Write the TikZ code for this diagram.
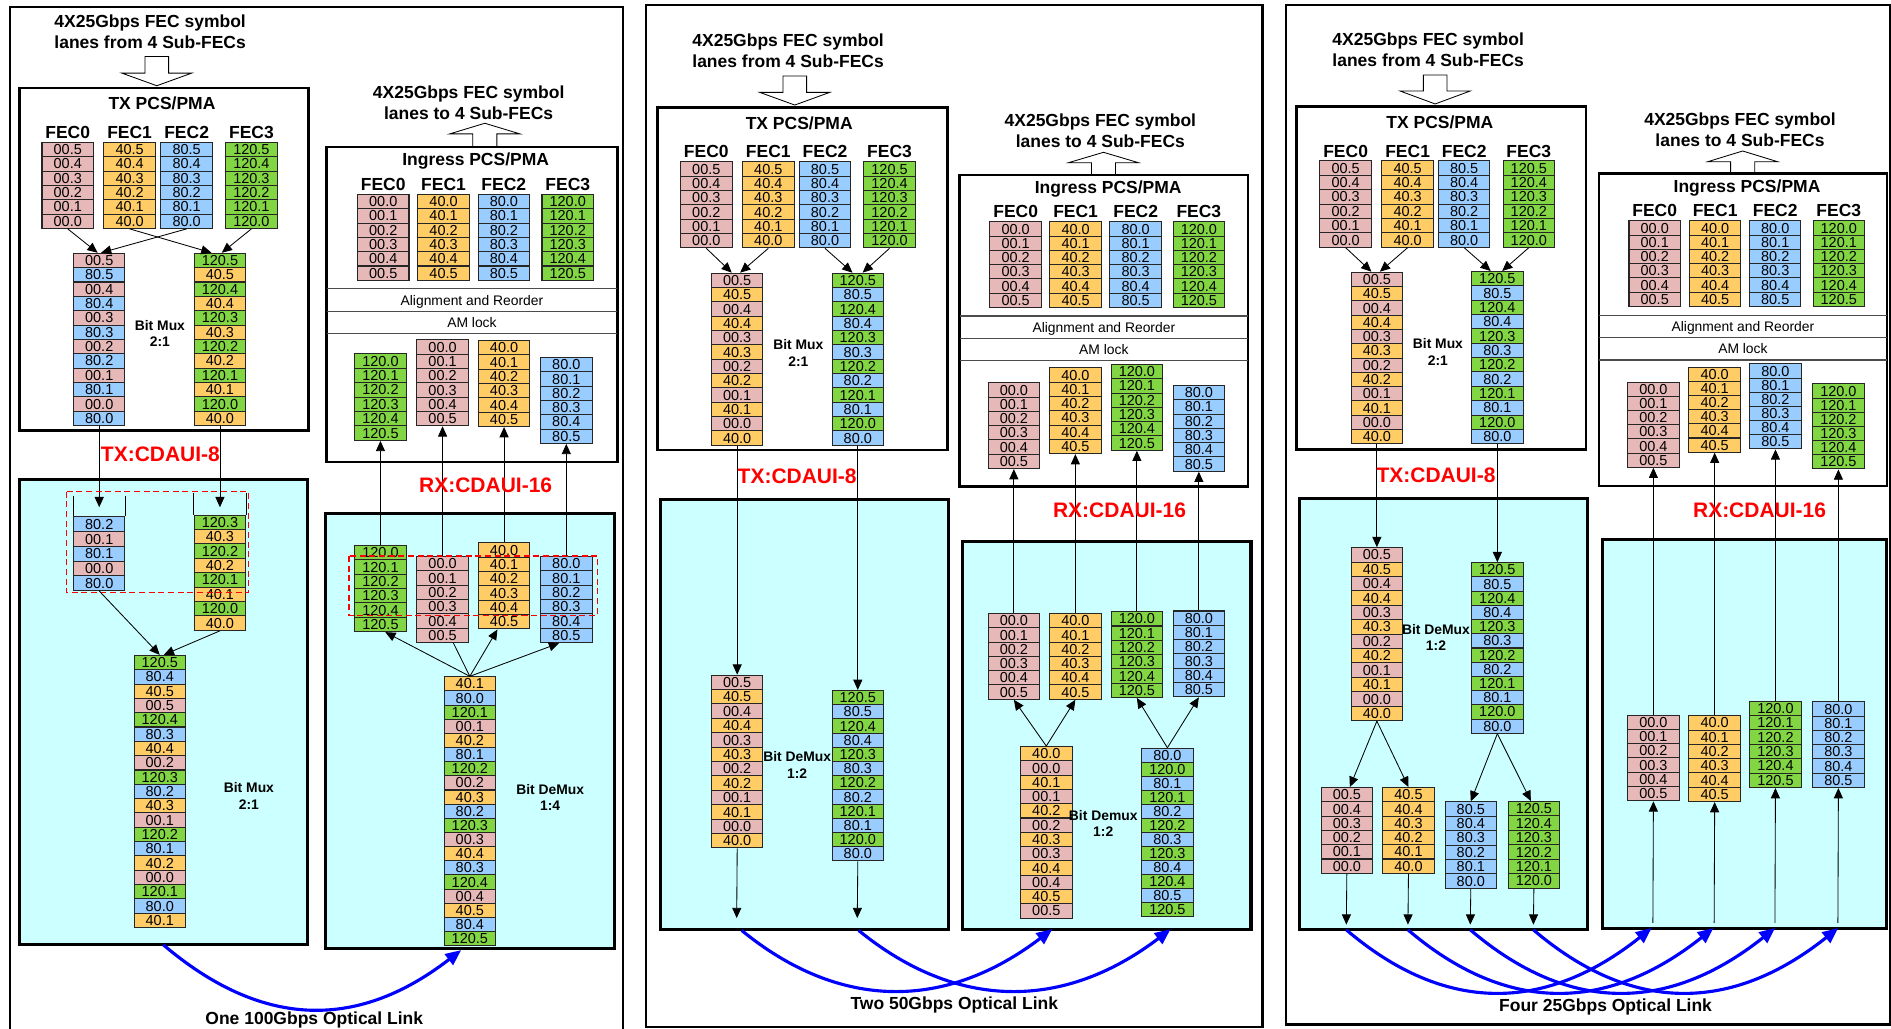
\documentclass[tikz,border=0pt]{standalone}
\usepackage{fontspec}
\setmainfont{Liberation Sans}
\usetikzlibrary{arrows.meta,calc}

\definecolor{PK}{HTML}{E6B9B8}
\definecolor{OR}{HTML}{FFCC66}
\definecolor{BL}{HTML}{99CCFF}
\definecolor{GR}{HTML}{82D644}
\definecolor{CY}{HTML}{CCFFFF}
\definecolor{cellline}{HTML}{262626}
\definecolor{linkblue}{HTML}{0000FF}

\tikzset{
  cell/.style={draw=cellline, line width=0.85pt, minimum width=42.7pt, inner sep=0pt,
    anchor=north west, font=\fontsize{12}{12}\selectfont, text depth=0pt},
  heading/.style={font=\bfseries\fontsize{14.5}{17.2}\selectfont, inner sep=0pt, text depth=0pt, align=center},
  feclbl/.style={font=\bfseries\fontsize{14.5}{17}\selectfont, inner sep=0pt, text depth=0pt, anchor=south},
  oplbl/.style={font=\bfseries\fontsize{11.5}{13.8}\selectfont, inner sep=0pt, text depth=0pt, align=center},
  iflbl/.style={font=\bfseries\fontsize{17.4}{20}\selectfont, text=red, inner sep=0pt, text depth=0pt},
  bandlbl/.style={font=\fontsize{11.5}{14}\selectfont, inner sep=0pt, text depth=0pt},
  arr/.style={draw=black, line width=0.7pt, -{Triangle[length=8.5pt,width=7.5pt]}},
  plainline/.style={draw=black, line width=0.7pt},
  bandline/.style={draw=black!70, line width=0.9pt},
  link/.style={draw=linkblue, line width=2.6pt, -{Triangle[length=13pt,width=11pt]}},
  panel/.style={draw=black, line width=1.8pt},
  blockbox/.style={draw=black, line width=2.3pt},
  cyanbox/.style={draw=black, fill=CY, line width=2.5pt},
  dashbox/.style={draw=red, line width=0.9pt, dash pattern=on 5pt off 3pt},
  hollow/.style={draw=black, fill=white, line width=0.7pt},
}

% symbol lists: value/colour
\def\PKdn{00.5/PK,00.4/PK,00.3/PK,00.2/PK,00.1/PK,00.0/PK}
\def\ORdn{40.5/OR,40.4/OR,40.3/OR,40.2/OR,40.1/OR,40.0/OR}
\def\BLdn{80.5/BL,80.4/BL,80.3/BL,80.2/BL,80.1/BL,80.0/BL}
\def\GRdn{120.5/GR,120.4/GR,120.3/GR,120.2/GR,120.1/GR,120.0/GR}
\def\PKup{00.0/PK,00.1/PK,00.2/PK,00.3/PK,00.4/PK,00.5/PK}
\def\ORup{40.0/OR,40.1/OR,40.2/OR,40.3/OR,40.4/OR,40.5/OR}
\def\BLup{80.0/BL,80.1/BL,80.2/BL,80.3/BL,80.4/BL,80.5/BL}
\def\GRup{120.0/GR,120.1/GR,120.2/GR,120.3/GR,120.4/GR,120.5/GR}
\def\MuxPB{00.5/PK,80.5/BL,00.4/PK,80.4/BL,00.3/PK,80.3/BL,00.2/PK,80.2/BL,00.1/PK,80.1/BL,00.0/PK,80.0/BL}
\def\MuxGO{120.5/GR,40.5/OR,120.4/GR,40.4/OR,120.3/GR,40.3/OR,120.2/GR,40.2/OR,120.1/GR,40.1/OR,120.0/GR,40.0/OR}
\def\MuxPO{00.5/PK,40.5/OR,00.4/PK,40.4/OR,00.3/PK,40.3/OR,00.2/PK,40.2/OR,00.1/PK,40.1/OR,00.0/PK,40.0/OR}
\def\MuxGB{120.5/GR,80.5/BL,120.4/GR,80.4/BL,120.3/GR,80.3/BL,120.2/GR,80.2/BL,120.1/GR,80.1/BL,120.0/GR,80.0/BL}
\def\FifoL{80.2/BL,00.1/PK,80.1/BL,00.0/PK,80.0/BL}
\def\FifoR{120.3/GR,40.3/OR,120.2/GR,40.2/OR,120.1/GR,40.1/OR,120.0/GR,40.0/OR}
\def\SerTx{120.5/GR,80.4/BL,40.5/OR,00.5/PK,120.4/GR,80.3/BL,40.4/OR,00.2/PK,120.3/GR,80.2/BL,40.3/OR,00.1/PK,120.2/GR,80.1/BL,40.2/OR,00.0/PK,120.1/GR,80.0/BL,40.1/OR}
\def\SerRx{40.1/OR,80.0/BL,120.1/GR,00.1/PK,40.2/OR,80.1/BL,120.2/GR,00.2/PK,40.3/OR,80.2/BL,120.3/GR,00.3/PK,40.4/OR,80.3/BL,120.4/GR,00.4/PK,40.5/OR,80.4/BL,120.5/GR}
\def\DmxOP{40.0/OR,00.0/PK,40.1/OR,00.1/PK,40.2/OR,00.2/PK,40.3/OR,00.3/PK,40.4/OR,00.4/PK,40.5/OR,00.5/PK}
\def\DmxBG{80.0/BL,120.0/GR,80.1/BL,120.1/GR,80.2/BL,120.2/GR,80.3/BL,120.3/GR,80.4/BL,120.4/GR,80.5/BL,120.5/GR}

% a column of symbol cells: name, left x, top y, cell height, list
\newcommand\cellcol[5]{%
  \edef\cclist{#5}%
  \foreach \cellv/\cellc [count=\celli] in \cclist {%
    \node[cell, fill=\cellc, minimum height=#4pt] (#1-\celli) at (#2,{#3+(\celli-1)*#4}) {\cellv};
  }%
}
% hollow block arrows: centre x, tail y, head base y, tip y
\newcommand\blockdown[4]{\draw[hollow] ({#1-9.8},#2) -- ({#1+9.8},#2) -- ({#1+9.8},#3) -- ({#1+29},#3) -- (#1,#4) -- ({#1-29},#3) -- ({#1-9.8},#3) -- cycle;}
\newcommand\blockup[4]{\draw[hollow] ({#1-10},#2) -- ({#1-10},#3) -- ({#1-29},#3) -- (#1,#4) -- ({#1+29},#3) -- ({#1+10},#3) -- ({#1+10},#2) -- cycle;}

\begin{document}
\begin{tikzpicture}[x=1pt,y=-1pt]
\useasboundingbox (0,0) rectangle (1568,853);
\fill[white] (0,0) rectangle (1568,853);

% ================= panel A : one 100G link =================
\draw[panel] (8,870) -- (8,6) -- (516.5,6) -- (516.5,870);
\node[heading] (A-title) at (124.5,26.35) {4X25Gbps FEC symbol\\lanes from 4 Sub-FECs};
\blockdown{130}{46.8}{60.6}{71.1}
\draw[blockbox] (16,73) rectangle (256,357);
\node[heading] (A-txhdr) at (134.3,85.4) {TX PCS/PMA};
\cellcol{A-t0}{34.4}{117.7}{11.87}{\PKdn}
\cellcol{A-t1}{85.7}{117.7}{11.87}{\ORdn}
\cellcol{A-t2}{133}{117.7}{11.87}{\BLdn}
\cellcol{A-t3}{186.7}{117.7}{11.87}{\GRdn}
\node[feclbl] (A-th0) at ([yshift=2.6pt]A-t0-1.north) {FEC0};
\node[feclbl] (A-th1) at ([yshift=2.6pt]A-t1-1.north) {FEC1};
\node[feclbl] (A-th2) at ([yshift=2.6pt]A-t2-1.north) {FEC2};
\node[feclbl] (A-th3) at ([yshift=2.6pt]A-t3-1.north) {FEC3};
\cellcol{A-m0}{60.5}{209.6}{11.9}{\MuxPB}
\cellcol{A-m1}{160.6}{209.6}{11.9}{\MuxGO}
\draw[arr] (A-t0-6.south) -- ([xshift=-1.3pt]A-m0-1.north);
\draw[arr] (A-t2-6.south) -- ([xshift=1.5pt]A-m0-1.north);
\draw[arr] (A-t1-6.south) -- ([xshift=-7pt]A-m1-1.north);
\draw[arr] (A-t3-6.south) -- ([xshift=1.5pt]A-m1-1.north);
\node[oplbl] (A-txop) at (132.6,276.4) {Bit Mux\\2:1};

\node[heading] (A-rxtitle) at (388.6,85) {4X25Gbps FEC symbol\\lanes to 4 Sub-FECs};
\blockup{402}{121.9}{111}{102.2}
\draw[blockbox] (271,121.9) rectangle (511.7,383);
\node[heading] (A-rxhdr) at (394.4,132) {Ingress PCS/PMA};
\cellcol{A-g0}{296}{160.8}{11.87}{\PKup}
\cellcol{A-g1}{346}{160.8}{11.87}{\ORup}
\cellcol{A-g2}{396}{160.8}{11.87}{\BLup}
\cellcol{A-g3}{449}{160.8}{11.87}{\GRup}
\node[feclbl] (A-gh0) at ([yshift=2.6pt]A-g0-1.north) {FEC0};
\node[feclbl] (A-gh1) at ([yshift=2.6pt]A-g1-1.north) {FEC1};
\node[feclbl] (A-gh2) at ([yshift=2.6pt]A-g2-1.north) {FEC2};
\node[feclbl] (A-gh3) at ([yshift=2.6pt]A-g3-1.north) {FEC3};
\draw[bandline] (271,239.4) -- (511.7,239.4);
\draw[bandline] (271,258) -- (511.7,258);
\draw[bandline] (271,276.4) -- (511.7,276.4);
\node[bandlbl] (A-align) at (391.35,248.8) {Alignment and Reorder};
\node[bandlbl] (A-amlock) at (391.35,267) {AM lock};
\cellcol{A-l0}{345.2}{281.4}{11.87}{\PKup}
\cellcol{A-l1}{396.2}{282}{11.87}{\ORup}
\cellcol{A-l2}{447.8}{296}{11.87}{\BLup}
\cellcol{A-l3}{293.7}{293}{11.95}{\GRup}

% TX electrical side of panel A
\draw[cyanbox] (16,397.6) rectangle (255,783.4);
\cellcol{A-f0}{60.5}{428.2}{12.2}{\FifoL}
\cellcol{A-f1}{160.6}{426.7}{11.94}{\FifoR}
\draw[plainline] (A-f0-1.north west) -- ++(0,-16.8);
\draw[plainline] (A-f0-1.north east) -- ++(0,-16.8);
\draw[plainline] (A-f1-1.north west) -- ++(0,-17.7);
\draw[plainline] (A-f1-1.north east) -- ++(0,-17.7);
\draw[arr] (A-m0-12.south) -- ([yshift=7.6pt]A-f0-1.north);
\draw[arr] (A-m1-12.south) -- ([yshift=6.1pt]A-f1-1.north);
\draw[dashbox] (55.2,407.7) rectangle (205.8,491.6);
\cellcol{A-x}{110.7}{543}{11.88}{\SerTx}
\draw[arr] (A-f0-5.south) -- (A-x-1.north);
\draw[arr] (A-f1-8.south) -- ([xshift=3.3pt]A-x-1.north);
\node[oplbl] (A-txop2) at (206.4,659.85) {Bit Mux\\2:1};

% RX electrical side of panel A
\draw[cyanbox] (269.7,425.8) rectangle (509.3,786.5);
\cellcol{A-r3}{293.7}{451.9}{11.9}{\GRup}
\cellcol{A-r0}{345.2}{461}{11.9}{\PKup}
\cellcol{A-r1}{396.2}{449.7}{11.9}{\ORup}
\cellcol{A-r2}{447.8}{461}{11.9}{\BLup}
\draw[dashbox] (289.4,461) rectangle (495.3,510);
\cellcol{A-d}{367.8}{560.8}{11.73}{\SerRx}
\draw[arr] (A-d-1.north) -- ([xshift=4pt]A-r3-6.south);
\draw[plainline] (A-d-1.north) -- ([xshift=9pt]A-r0-6.south);
\draw[arr] (A-d-1.north) -- ([xshift=-5.5pt]A-r1-6.south);
\draw[arr] (A-d-1.north) -- ([xshift=-6pt]A-r2-6.south);
\node[oplbl] (A-rxop) at (456.2,661.4) {Bit DeMux\\1:4};
\draw[arr] (A-r3-1.north) -- (A-l3-6.south);
\draw[arr] (A-r0-1.north) -- (A-l0-6.south);
\draw[arr] (A-r1-1.north) -- (A-l1-6.south);
\draw[arr] (A-r2-1.north) -- (A-l2-6.south);

\node[iflbl] (A-txif) at (133,377) {TX:CDAUI-8};
\node[iflbl] (A-rxif) at (402.7,402.5) {RX:CDAUI-16};

\coordinate (A-s) at (135.4,783.4);
\coordinate (A-e) at (382.4,787.8);
\draw[link] (A-s) .. controls +(80,68) and +(-88,68) .. (A-e);
\node[heading] (A-link) at (260.6,844.6) {One 100Gbps Optical Link};

% ================= panel B : two 50G links =================
\draw[panel] (535.8,4.1) rectangle (1046.8,851.5);
\node[heading] (B-title) at (653.5,41.9) {4X25Gbps FEC symbol\\lanes from 4 Sub-FECs};
\blockdown{659}{63}{76.6}{87.1}
\draw[blockbox] (545.2,89) rectangle (785.5,373.1);
\node[heading] (B-txhdr) at (662.7,102.3) {TX PCS/PMA};
\cellcol{B-t0}{563.9}{133.8}{11.88}{\PKdn}
\cellcol{B-t1}{615.3}{133.8}{11.88}{\ORdn}
\cellcol{B-t2}{662.3}{133.8}{11.88}{\BLdn}
\cellcol{B-t3}{715.8}{133.8}{11.88}{\GRdn}
\node[feclbl] (B-th0) at ([yshift=2.6pt]B-t0-1.north) {FEC0};
\node[feclbl] (B-th1) at ([yshift=2.6pt]B-t1-1.north) {FEC1};
\node[feclbl] (B-th2) at ([yshift=2.6pt]B-t2-1.north) {FEC2};
\node[feclbl] (B-th3) at ([yshift=2.6pt]B-t3-1.north) {FEC3};
\cellcol{B-m0}{589.5}{226.1}{11.88}{\MuxPO}
\cellcol{B-m1}{689.5}{226.1}{11.88}{\MuxGB}
\draw[arr] (B-t0-6.south) -- ([xshift=-4.5pt]B-m0-1.north);
\draw[arr] (B-t1-6.south) -- ([xshift=2.4pt]B-m0-1.north);
\draw[arr] (B-t2-6.south) -- ([xshift=-4.4pt]B-m1-1.north);
\draw[arr] (B-t3-6.south) -- ([xshift=4pt]B-m1-1.north);
\node[oplbl] (B-txop) at (662,292.55) {Bit Mux\\2:1};

\node[heading] (B-rxtitle) at (912.4,108.45) {4X25Gbps FEC symbol\\lanes to 4 Sub-FECs};
\blockup{915}{145.1}{134.9}{126.3}
\draw[blockbox] (795.7,145.1) rectangle (1034.9,403.5);
\node[heading] (B-rxhdr) at (918.9,154.8) {Ingress PCS/PMA};
\cellcol{B-g0}{820.4}{183.5}{11.85}{\PKup}
\cellcol{B-g1}{870.1}{183.5}{11.85}{\ORup}
\cellcol{B-g2}{919.9}{183.5}{11.85}{\BLup}
\cellcol{B-g3}{972.3}{183.5}{11.85}{\GRup}
\node[feclbl] (B-gh0) at ([yshift=2.6pt]B-g0-1.north) {FEC0};
\node[feclbl] (B-gh1) at ([yshift=2.6pt]B-g1-1.north) {FEC1};
\node[feclbl] (B-gh2) at ([yshift=2.6pt]B-g2-1.north) {FEC2};
\node[feclbl] (B-gh3) at ([yshift=2.6pt]B-g3-1.north) {FEC3};
\draw[bandline] (795.7,262) -- (1034.9,262);
\draw[bandline] (795.7,280.8) -- (1034.9,280.8);
\draw[bandline] (795.7,299.3) -- (1034.9,299.3);
\node[bandlbl] (B-align) at (915.3,271.4) {Alignment and Reorder};
\node[bandlbl] (B-amlock) at (915.3,289.4) {AM lock};
\cellcol{B-l0}{818.9}{317}{11.85}{\PKup}
\cellcol{B-l1}{869.9}{304.6}{11.85}{\ORup}
\cellcol{B-l2}{920.9}{301.8}{11.85}{\GRup}
\cellcol{B-l3}{972.3}{319.2}{11.85}{\BLup}

\draw[cyanbox] (547.6,414) rectangle (786.2,770.9);
\cellcol{B-x0}{589.5}{559.4}{11.94}{\MuxPO}
\cellcol{B-x1}{689.5}{572.1}{11.78}{\MuxGB}
\draw[arr] (B-m0-12.south) -- (B-x0-1.north);
\draw[arr] (B-m1-12.south) -- (B-x1-1.north);
\coordinate (B-o0) at (610.85,761.3);
\coordinate (B-o1) at (710.85,761.3);
\draw[arr] (B-x0-12.south) -- (B-o0);
\draw[arr] (B-x1-12.south) -- (B-o1);
\node[oplbl] (B-txop2) at (661,634.25) {Bit DeMux\\1:2};

\draw[cyanbox] (798,448.8) rectangle (1037.3,770.9);
\cellcol{B-r0}{818.9}{508.3}{11.85}{\PKup}
\cellcol{B-r1}{869.9}{508.3}{11.85}{\ORup}
\cellcol{B-r2}{920.9}{506.8}{11.85}{\GRup}
\cellcol{B-r3}{972.3}{506.2}{11.85}{\BLup}
\cellcol{B-d0}{845.8}{618.6}{11.85}{\DmxOP}
\cellcol{B-d1}{946.2}{620}{11.61}{\DmxBG}
\draw[arr] (B-d0-1.north) -- (B-r0-6.south);
\draw[arr] (B-d0-1.north) -- (B-r1-6.south);
\draw[arr] (B-d1-1.north) -- (B-r2-6.south);
\draw[arr] (B-d1-1.north) -- (B-r3-6.south);
\node[oplbl] (B-rxop) at (914.8,682.85) {Bit Demux\\1:2};
\draw[arr] (B-r0-1.north) -- (B-l0-6.south);
\draw[arr] (B-r1-1.north) -- (B-l1-6.south);
\draw[arr] (B-r2-1.north) -- (B-l2-6.south);
\draw[arr] (B-r3-1.north) -- (B-l3-6.south);

\node[iflbl] (B-txif) at (661,394.7) {TX:CDAUI-8};
\node[iflbl] (B-rxif) at (928.3,423.2) {RX:CDAUI-16};

\coordinate (B-s0) at (615,771.5);
\coordinate (B-s1) at (712,771.5);
\coordinate (B-e0) at (872.5,770.5);
\coordinate (B-e1) at (970.6,770.5);
\draw[link] (B-s0) .. controls +(82,67) and +(-88,67) .. (B-e0);
\draw[link] (B-s1) .. controls +(82,67) and +(-88,67) .. (B-e1);
\node[heading] (B-link) at (791.3,831.8) {Two 50Gbps Optical Link};

% ================= panel C : four 25G links =================
\draw[panel] (1066.2,4.1) rectangle (1567,849.5);
\node[heading] (C-title) at (1184.2,41.05) {4X25Gbps FEC symbol\\lanes from 4 Sub-FECs};
\blockdown{1190}{62.2}{75.5}{86.2}
\draw[blockbox] (1075.3,88.4) rectangle (1315.1,372.6);
\node[heading] (C-txhdr) at (1193.9,100.9) {TX PCS/PMA};
\cellcol{C-t0}{1094}{133}{11.92}{\PKdn}
\cellcol{C-t1}{1145.4}{133}{11.92}{\ORdn}
\cellcol{C-t2}{1192.3}{133}{11.92}{\BLdn}
\cellcol{C-t3}{1245.9}{133}{11.92}{\GRdn}
\node[feclbl] (C-th0) at ([yshift=2.6pt]C-t0-1.north) {FEC0};
\node[feclbl] (C-th1) at ([yshift=2.6pt]C-t1-1.north) {FEC1};
\node[feclbl] (C-th2) at ([yshift=2.6pt]C-t2-1.north) {FEC2};
\node[feclbl] (C-th3) at ([yshift=2.6pt]C-t3-1.north) {FEC3};
\cellcol{C-m0}{1119.9}{225.3}{11.86}{\MuxPO}
\cellcol{C-m1}{1219.8}{224.7}{11.9}{\MuxGB}
\draw[arr] (C-t0-6.south) -- ([xshift=-4.5pt]C-m0-1.north);
\draw[arr] (C-t1-6.south) -- ([xshift=2.5pt]C-m0-1.north);
\draw[arr] (C-t2-6.south) -- ([xshift=-5.5pt]C-m1-1.north);
\draw[arr] (C-t3-6.south) -- ([xshift=4pt]C-m1-1.north);
\node[oplbl] (C-txop) at (1192.3,291.6) {Bit Mux\\2:1};

\node[heading] (C-rxtitle) at (1442.8,107.55) {4X25Gbps FEC symbol\\lanes to 4 Sub-FECs};
\blockup{1445}{143.7}{134.1}{125.2}
\draw[blockbox] (1325.8,143.7) rectangle (1564.6,403);
\node[heading] (C-rxhdr) at (1448.6,154.2) {Ingress PCS/PMA};
\cellcol{C-g0}{1350.3}{182.7}{11.83}{\PKup}
\cellcol{C-g1}{1400.4}{182.7}{11.83}{\ORup}
\cellcol{C-g2}{1450.2}{182.7}{11.83}{\BLup}
\cellcol{C-g3}{1502.9}{182.7}{11.83}{\GRup}
\node[feclbl] (C-gh0) at ([yshift=2.6pt]C-g0-1.north) {FEC0};
\node[feclbl] (C-gh1) at ([yshift=2.6pt]C-g1-1.north) {FEC1};
\node[feclbl] (C-gh2) at ([yshift=2.6pt]C-g2-1.north) {FEC2};
\node[feclbl] (C-gh3) at ([yshift=2.6pt]C-g3-1.north) {FEC3};
\draw[bandline] (1325.8,261.5) -- (1564.6,261.5);
\draw[bandline] (1325.8,280) -- (1564.6,280);
\draw[bandline] (1325.8,298.5) -- (1564.6,298.5);
\node[bandlbl] (C-align) at (1445.2,270.3) {Alignment and Reorder};
\node[bandlbl] (C-amlock) at (1445.2,288.8) {AM lock};
\cellcol{C-l0}{1349.2}{316.5}{11.75}{\PKup}
\cellcol{C-l1}{1400}{304}{11.75}{\ORup}
\cellcol{C-l2}{1450.4}{301.3}{11.75}{\BLup}
\cellcol{C-l3}{1502.6}{317.9}{11.75}{\GRup}

\draw[cyanbox] (1077.6,413.1) rectangle (1316.7,770.5);
\cellcol{C-x0}{1119.9}{453.7}{11.95}{\MuxPO}
\cellcol{C-x1}{1219.8}{466.2}{11.78}{\MuxGB}
\draw[arr] (C-m0-12.south) -- (C-x0-1.north);
\draw[arr] (C-m1-12.south) -- (C-x1-1.north);
\node[oplbl] (C-txop2) at (1190.7,528.65) {Bit DeMux\\1:2};
\cellcol{C-b0}{1095}{652.6}{11.85}{\PKdn}
\cellcol{C-b1}{1146.1}{652.6}{11.85}{\ORdn}
\cellcol{C-b2}{1197.8}{664.5}{11.95}{\BLdn}
\cellcol{C-b3}{1250.1}{664.2}{11.95}{\GRdn}
\draw[arr] (C-x0-12.south) -- ([xshift=2.5pt]C-b0-1.north);
\draw[arr] (C-x0-12.south) -- (C-b1-1.north);
\draw[arr] (C-x1-12.south) -- (C-b2-1.north);
\draw[arr] (C-x1-12.south) -- ([xshift=-2.5pt]C-b3-1.north);
\coordinate (C-o0) at (1116.35,766.7);
\coordinate (C-o1) at (1167.45,766.7);
\coordinate (C-o2) at (1219.15,766.7);
\coordinate (C-o3) at (1271.45,766.7);
\draw[arr] (C-b0-6.south) -- (C-o0);
\draw[arr] (C-b1-6.south) -- (C-o1);
\draw[arr] (C-b2-6.south) -- (C-o2);
\draw[arr] (C-b3-6.south) -- (C-o3);

\draw[cyanbox] (1328.4,447.4) rectangle (1564.6,769.6);
\cellcol{C-r0}{1349.2}{592.5}{11.85}{\PKup}
\cellcol{C-r1}{1400}{593.1}{11.85}{\ORup}
\cellcol{C-r2}{1450.4}{580.9}{11.95}{\GRup}
\cellcol{C-r3}{1502.6}{581.5}{11.85}{\BLup}
\coordinate (C-u0) at (1370.55,765.2);
\coordinate (C-u1) at (1421.35,765.2);
\coordinate (C-u2) at (1471.75,765.2);
\coordinate (C-u3) at (1523.95,765.2);
\draw[arr] (C-u0) -- (C-r0-6.south);
\draw[arr] (C-u1) -- (C-r1-6.south);
\draw[arr] (C-u2) -- (C-r2-6.south);
\draw[arr] (C-u3) -- (C-r3-6.south);
\draw[arr] (C-r0-1.north) -- (C-l0-6.south);
\draw[arr] (C-r1-1.north) -- (C-l1-6.south);
\draw[arr] (C-r2-1.north) -- (C-l2-6.south);
\draw[arr] (C-r3-1.north) -- (C-l3-6.south);

\node[iflbl] (C-txif) at (1190.7,393.9) {TX:CDAUI-8};
\node[iflbl] (C-rxif) at (1459,422.8) {RX:CDAUI-16};

\coordinate (C-s0) at (1116.35,771);
\coordinate (C-s1) at (1167.45,771);
\coordinate (C-s2) at (1219.15,771);
\coordinate (C-s3) at (1271.45,771);
\coordinate (C-e0) at (1369.5,769.5);
\coordinate (C-e1) at (1420.8,769.5);
\coordinate (C-e2) at (1471.9,769.5);
\coordinate (C-e3) at (1524.2,769.5);
\foreach \k in {0,1,2,3}{
  \draw[link] (C-s\k) .. controls +(82,70) and +(-88,70) .. (C-e\k);
}
\node[heading] (C-link) at (1331.3,833.5) {Four 25Gbps Optical Link};
\end{tikzpicture}
\end{document}
